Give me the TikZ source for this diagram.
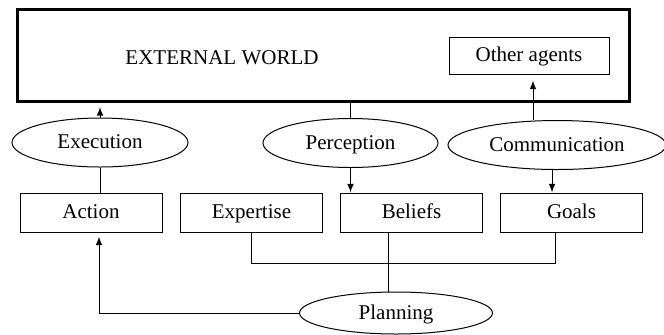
\documentclass[tikz,border=0pt]{standalone}
\usepackage{fontspec}
\setmainfont{Liberation Serif}
\usetikzlibrary{shapes.geometric}

\begin{document}
\begin{tikzpicture}[x=0.5pt,y=-0.5pt,line width=0.5pt,
        every node/.style={font=\fontsize{10.5pt}{12pt}\selectfont,text height=8pt,text depth=2pt},
        box/.style={draw,minimum width=71pt,minimum height=19.5pt,inner sep=0pt},
        proc/.style={draw,ellipse,minimum height=24.5pt,inner sep=0pt}]
        \useasboundingbox (0,0) rectangle (664,334);
        \node[draw,line width=1.5pt,minimum width=306pt,minimum height=46pt] at (323.5,55.5) (world){};
        \node at (222,58.5) (ext){EXTERNAL WORLD};
        \node[box,minimum width=80pt,minimum height=18.5pt] at (529,55.5) (agents){Other agents};
        \node[proc,minimum width=88pt] at (100,142.5) (exec){Execution};
        \node[proc,minimum width=87.5pt] at (350.5,143) (percep){Perception};
        \node[proc,minimum width=109pt] at (557,145) (comm){Communication};
        \node[box] at (91,212.5) (action){Action};
        \node[box] at (251.5,212.5) (expertise){Expertise};
        \node[box] at (411.5,212.5) (beliefs){Beliefs};
        \node[box] at (571.5,212.5) (goals){Goals};
        \node[proc,minimum width=96.5pt,minimum height=21pt] at (396,313) (plan){Planning};

        \draw[-latex,shorten >=2pt] (exec.north) -- (exec.north |- world.south);
        \draw (exec.south) -- (exec.south |- action.north);
        \draw (percep.north) -- (percep.north |- world.south);
        \draw[-latex] (percep.south) -- (percep.south |- beliefs.north);
        \draw[latex-,shorten <=3pt] ([xshift=2pt]agents.south) -- ([xshift=2pt]agents.south |- comm.north);
        \draw[-latex] ([xshift=-2.5pt]comm.south) -- ([xshift=-2.5pt]comm.south |- goals.north);
        \draw (expertise.south) -- ++(0,31) -| ([xshift=-8pt]goals.south);
        \draw ([xshift=-4pt]plan.north) -- ([xshift=-4pt]plan.north |- beliefs.south);
        \draw[-latex,shorten >=2pt] (plan.west) -| ([xshift=4pt]action.south);
    \end{tikzpicture}
\end{document}
